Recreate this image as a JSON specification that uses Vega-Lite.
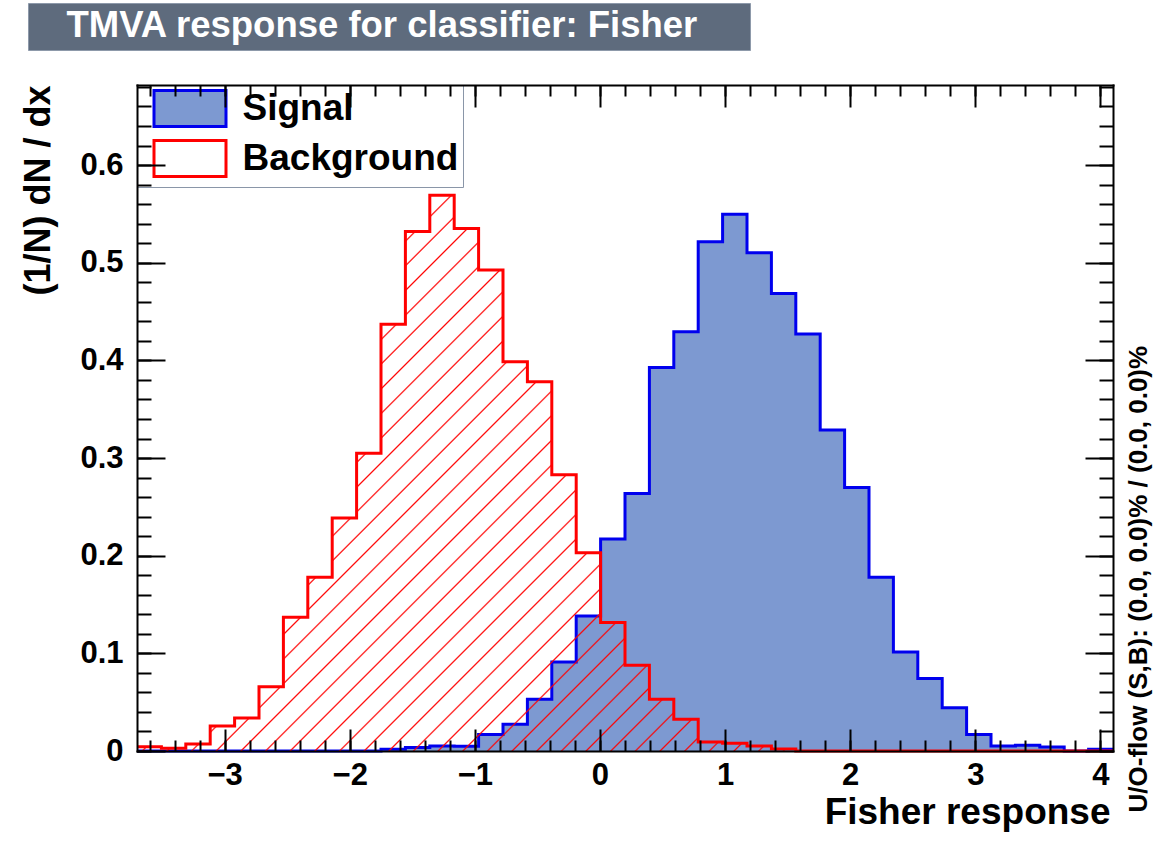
{
"$schema":"https://vega.github.io/schema/vega-lite/v6.json",
"width":976,"height":666,
"autosize":{"type":"none"},
"padding":{"left":137,"top":85,"right":56,"bottom":94},
"background":"white",
"config":{"view":{"stroke":null},"font":"Liberation Sans"},
"data":{"values":[
{"cls":"Signal","lo":-3.7,"hi":-3.505,"v":0},
{"cls":"Signal","lo":-3.505,"hi":-3.31,"v":0},
{"cls":"Signal","lo":-3.31,"hi":-3.115,"v":0},
{"cls":"Signal","lo":-3.115,"hi":-2.92,"v":0},
{"cls":"Signal","lo":-2.92,"hi":-2.725,"v":0},
{"cls":"Signal","lo":-2.725,"hi":-2.53,"v":0},
{"cls":"Signal","lo":-2.53,"hi":-2.335,"v":0},
{"cls":"Signal","lo":-2.335,"hi":-2.14,"v":0},
{"cls":"Signal","lo":-2.14,"hi":-1.945,"v":0},
{"cls":"Signal","lo":-1.945,"hi":-1.75,"v":0},
{"cls":"Signal","lo":-1.75,"hi":-1.555,"v":0.0017},
{"cls":"Signal","lo":-1.555,"hi":-1.36,"v":0.0035},
{"cls":"Signal","lo":-1.36,"hi":-1.165,"v":0.005},
{"cls":"Signal","lo":-1.165,"hi":-0.97,"v":0.0048},
{"cls":"Signal","lo":-0.97,"hi":-0.775,"v":0.0168},
{"cls":"Signal","lo":-0.775,"hi":-0.58,"v":0.0273},
{"cls":"Signal","lo":-0.58,"hi":-0.385,"v":0.053},
{"cls":"Signal","lo":-0.385,"hi":-0.19,"v":0.0912},
{"cls":"Signal","lo":-0.19,"hi":0.005,"v":0.1383},
{"cls":"Signal","lo":0.005,"hi":0.2,"v":0.217},
{"cls":"Signal","lo":0.2,"hi":0.395,"v":0.2637},
{"cls":"Signal","lo":0.395,"hi":0.59,"v":0.3928},
{"cls":"Signal","lo":0.59,"hi":0.785,"v":0.4293},
{"cls":"Signal","lo":0.785,"hi":0.98,"v":0.5215},
{"cls":"Signal","lo":0.98,"hi":1.175,"v":0.5496},
{"cls":"Signal","lo":1.175,"hi":1.37,"v":0.5102},
{"cls":"Signal","lo":1.37,"hi":1.565,"v":0.4686},
{"cls":"Signal","lo":1.565,"hi":1.76,"v":0.427},
{"cls":"Signal","lo":1.76,"hi":1.955,"v":0.3286},
{"cls":"Signal","lo":1.955,"hi":2.15,"v":0.2699},
{"cls":"Signal","lo":2.15,"hi":2.345,"v":0.178},
{"cls":"Signal","lo":2.345,"hi":2.54,"v":0.1015},
{"cls":"Signal","lo":2.54,"hi":2.735,"v":0.0742},
{"cls":"Signal","lo":2.735,"hi":2.93,"v":0.0444},
{"cls":"Signal","lo":2.93,"hi":3.125,"v":0.0168},
{"cls":"Signal","lo":3.125,"hi":3.32,"v":0.0051},
{"cls":"Signal","lo":3.32,"hi":3.515,"v":0.0058},
{"cls":"Signal","lo":3.515,"hi":3.71,"v":0.0041},
{"cls":"Signal","lo":3.71,"hi":3.905,"v":0},
{"cls":"Signal","lo":3.905,"hi":4.1,"v":0.0017},
{"cls":"Background","lo":-3.7,"hi":-3.505,"v":0.0044},
{"cls":"Background","lo":-3.505,"hi":-3.31,"v":0.0028},
{"cls":"Background","lo":-3.31,"hi":-3.115,"v":0.0072},
{"cls":"Background","lo":-3.115,"hi":-2.92,"v":0.0256},
{"cls":"Background","lo":-2.92,"hi":-2.725,"v":0.0338},
{"cls":"Background","lo":-2.725,"hi":-2.53,"v":0.0658},
{"cls":"Background","lo":-2.53,"hi":-2.335,"v":0.137},
{"cls":"Background","lo":-2.335,"hi":-2.14,"v":0.178},
{"cls":"Background","lo":-2.14,"hi":-1.945,"v":0.2386},
{"cls":"Background","lo":-1.945,"hi":-1.75,"v":0.305},
{"cls":"Background","lo":-1.75,"hi":-1.555,"v":0.437},
{"cls":"Background","lo":-1.555,"hi":-1.36,"v":0.532},
{"cls":"Background","lo":-1.36,"hi":-1.165,"v":0.569},
{"cls":"Background","lo":-1.165,"hi":-0.97,"v":0.535},
{"cls":"Background","lo":-0.97,"hi":-0.775,"v":0.4925},
{"cls":"Background","lo":-0.775,"hi":-0.58,"v":0.3985},
{"cls":"Background","lo":-0.58,"hi":-0.385,"v":0.378},
{"cls":"Background","lo":-0.385,"hi":-0.19,"v":0.283},
{"cls":"Background","lo":-0.19,"hi":0.005,"v":0.203},
{"cls":"Background","lo":0.005,"hi":0.2,"v":0.1315},
{"cls":"Background","lo":0.2,"hi":0.395,"v":0.0878},
{"cls":"Background","lo":0.395,"hi":0.59,"v":0.053},
{"cls":"Background","lo":0.59,"hi":0.785,"v":0.0325},
{"cls":"Background","lo":0.785,"hi":0.98,"v":0.0092},
{"cls":"Background","lo":0.98,"hi":1.175,"v":0.008},
{"cls":"Background","lo":1.175,"hi":1.37,"v":0.005},
{"cls":"Background","lo":1.37,"hi":1.565,"v":0.002},
{"cls":"Background","lo":1.565,"hi":1.76,"v":0},
{"cls":"Background","lo":1.76,"hi":1.955,"v":0},
{"cls":"Background","lo":1.955,"hi":2.15,"v":0},
{"cls":"Background","lo":2.15,"hi":2.345,"v":0},
{"cls":"Background","lo":2.345,"hi":2.54,"v":0},
{"cls":"Background","lo":2.54,"hi":2.735,"v":0},
{"cls":"Background","lo":2.735,"hi":2.93,"v":0},
{"cls":"Background","lo":2.93,"hi":3.125,"v":0},
{"cls":"Background","lo":3.125,"hi":3.32,"v":0},
{"cls":"Background","lo":3.32,"hi":3.515,"v":0},
{"cls":"Background","lo":3.515,"hi":3.71,"v":0},
{"cls":"Background","lo":3.71,"hi":3.905,"v":0},
{"cls":"Background","lo":3.905,"hi":4.1,"v":0}
]},
"resolve":{"axis":{"x":"independent","y":"independent"}},
"layer":[
{
"transform":[{"filter":{"field":"cls","equal":"Signal"}},{"fold":["lo","hi"],"as":["edge","xv"]}],
"mark":{"type":"area","fill":"#7d99d1","opacity":1},
"encoding":{
"x":{"field":"xv","type":"quantitative","scale":{"domain":[-3.7,4.1],"nice":false,"zero":false},
"axis":{"orient":"bottom","values":[-3,-2,-1,0,1,2,3,4],"format":"~g","tickSize":-22,"tickWidth":2,"tickColor":"black","domain":true,"domainColor":"black","domainWidth":2,"domainCap":"square","grid":false,"zindex":1,"labelFont":"Liberation Sans","labelFontSize":31,"labelFontWeight":"bold","labelColor":"black","labelPadding":31,"labelFlush":false,"labelOverlap":false,"title":"Fisher response","titleFont":"Liberation Sans","titleFontSize":37,"titleFontWeight":"bold","titleColor":"black","titleAlign":"right","titleBaseline":"alphabetic","titleAngle":0,"titleX":973,"titleY":72}},
"y":{"field":"v","type":"quantitative","stack":null,"scale":{"domain":[0,0.682],"nice":false,"zero":false},
"axis":{"orient":"left","values":[0,0.1,0.2,0.3,0.4,0.5,0.6],"format":"~g","tickSize":-28,"tickWidth":2,"tickColor":"black","domain":true,"domainColor":"black","domainWidth":2,"domainCap":"square","grid":false,"zindex":1,"labelFont":"Liberation Sans","labelFontSize":31,"labelFontWeight":"bold","labelColor":"black","labelPadding":42,"labelFlush":false,"labelOverlap":false,"title":"(1/N) dN / dx","titleFont":"Liberation Sans","titleFontSize":36,"titleFontWeight":"bold","titleColor":"black","titleAngle":270,"titleAlign":"right","titleBaseline":"middle","titleX":-99,"titleY":0}},
"order":[{"field":"xv","type":"quantitative"},{"field":"lo","type":"quantitative"}]
}
},
{
"transform":[{"filter":{"field":"cls","equal":"Signal"}},{"fold":["lo","hi"],"as":["edge","xv"]}],
"mark":{"type":"line","stroke":"#0000ee","strokeWidth":3,"strokeJoin":"miter","opacity":1},
"encoding":{
"x":{"field":"xv","type":"quantitative",
"axis":{"orient":"bottom","values":[-3.6,-3.4,-3.2,-3,-2.8,-2.6,-2.4,-2.2,-2,-1.8,-1.6,-1.4,-1.2,-1,-0.8,-0.6,-0.4,-0.2,0,0.2,0.4,0.6,0.8,1,1.2,1.4,1.6,1.8,2,2.2,2.4,2.6,2.8,3,3.2,3.4,3.6,3.8,4],"tickSize":-11,"tickWidth":2,"tickColor":"black","labels":false,"domain":false,"grid":false,"zindex":1,"title":null}},
"y":{"field":"v","type":"quantitative","stack":null,
"axis":{"orient":"left","values":[0,0.02,0.04,0.06,0.08,0.1,0.12,0.14,0.16,0.18,0.2,0.22,0.24,0.26,0.28,0.3,0.32,0.34,0.36,0.38,0.4,0.42,0.44,0.46,0.48,0.5,0.52,0.54,0.56,0.58,0.6,0.62,0.64,0.66,0.68],"tickSize":-14,"tickWidth":2,"tickColor":"black","labels":false,"domain":false,"grid":false,"zindex":1,"title":null}},
"order":[{"field":"xv","type":"quantitative"},{"field":"lo","type":"quantitative"}]
}
},
{
"transform":[{"filter":{"field":"cls","equal":"Background"}},{"fold":["lo","hi"],"as":["edge","xv"]}],
"mark":{"type":"area","opacity":1,"fill":{"gradient":"linear","x1":0,"y1":0,"x2":1.18519,"y2":0.67468,"stops":[
{"offset":0.0109,"color":"rgba(255,0,0,0)"},{"offset":0.0120,"color":"#ff0000"},{"offset":0.0131,"color":"rgba(255,0,0,0)"},
{"offset":0.0270,"color":"rgba(255,0,0,0)"},{"offset":0.0281,"color":"#ff0000"},{"offset":0.0292,"color":"rgba(255,0,0,0)"},
{"offset":0.0431,"color":"rgba(255,0,0,0)"},{"offset":0.0442,"color":"#ff0000"},{"offset":0.0453,"color":"rgba(255,0,0,0)"},
{"offset":0.0592,"color":"rgba(255,0,0,0)"},{"offset":0.0603,"color":"#ff0000"},{"offset":0.0614,"color":"rgba(255,0,0,0)"},
{"offset":0.0753,"color":"rgba(255,0,0,0)"},{"offset":0.0764,"color":"#ff0000"},{"offset":0.0775,"color":"rgba(255,0,0,0)"},
{"offset":0.0914,"color":"rgba(255,0,0,0)"},{"offset":0.0925,"color":"#ff0000"},{"offset":0.0936,"color":"rgba(255,0,0,0)"},
{"offset":0.1075,"color":"rgba(255,0,0,0)"},{"offset":0.1086,"color":"#ff0000"},{"offset":0.1097,"color":"rgba(255,0,0,0)"},
{"offset":0.1236,"color":"rgba(255,0,0,0)"},{"offset":0.1247,"color":"#ff0000"},{"offset":0.1258,"color":"rgba(255,0,0,0)"},
{"offset":0.1397,"color":"rgba(255,0,0,0)"},{"offset":0.1408,"color":"#ff0000"},{"offset":0.1419,"color":"rgba(255,0,0,0)"},
{"offset":0.1558,"color":"rgba(255,0,0,0)"},{"offset":0.1569,"color":"#ff0000"},{"offset":0.1580,"color":"rgba(255,0,0,0)"},
{"offset":0.1719,"color":"rgba(255,0,0,0)"},{"offset":0.1730,"color":"#ff0000"},{"offset":0.1741,"color":"rgba(255,0,0,0)"},
{"offset":0.1880,"color":"rgba(255,0,0,0)"},{"offset":0.1891,"color":"#ff0000"},{"offset":0.1902,"color":"rgba(255,0,0,0)"},
{"offset":0.2041,"color":"rgba(255,0,0,0)"},{"offset":0.2052,"color":"#ff0000"},{"offset":0.2063,"color":"rgba(255,0,0,0)"},
{"offset":0.2202,"color":"rgba(255,0,0,0)"},{"offset":0.2213,"color":"#ff0000"},{"offset":0.2224,"color":"rgba(255,0,0,0)"},
{"offset":0.2363,"color":"rgba(255,0,0,0)"},{"offset":0.2374,"color":"#ff0000"},{"offset":0.2385,"color":"rgba(255,0,0,0)"},
{"offset":0.2524,"color":"rgba(255,0,0,0)"},{"offset":0.2535,"color":"#ff0000"},{"offset":0.2546,"color":"rgba(255,0,0,0)"},
{"offset":0.2685,"color":"rgba(255,0,0,0)"},{"offset":0.2696,"color":"#ff0000"},{"offset":0.2707,"color":"rgba(255,0,0,0)"},
{"offset":0.2846,"color":"rgba(255,0,0,0)"},{"offset":0.2857,"color":"#ff0000"},{"offset":0.2868,"color":"rgba(255,0,0,0)"},
{"offset":0.3007,"color":"rgba(255,0,0,0)"},{"offset":0.3018,"color":"#ff0000"},{"offset":0.3029,"color":"rgba(255,0,0,0)"},
{"offset":0.3168,"color":"rgba(255,0,0,0)"},{"offset":0.3179,"color":"#ff0000"},{"offset":0.3190,"color":"rgba(255,0,0,0)"},
{"offset":0.3329,"color":"rgba(255,0,0,0)"},{"offset":0.3340,"color":"#ff0000"},{"offset":0.3351,"color":"rgba(255,0,0,0)"},
{"offset":0.3490,"color":"rgba(255,0,0,0)"},{"offset":0.3501,"color":"#ff0000"},{"offset":0.3512,"color":"rgba(255,0,0,0)"},
{"offset":0.3651,"color":"rgba(255,0,0,0)"},{"offset":0.3662,"color":"#ff0000"},{"offset":0.3673,"color":"rgba(255,0,0,0)"},
{"offset":0.3812,"color":"rgba(255,0,0,0)"},{"offset":0.3823,"color":"#ff0000"},{"offset":0.3834,"color":"rgba(255,0,0,0)"},
{"offset":0.3973,"color":"rgba(255,0,0,0)"},{"offset":0.3984,"color":"#ff0000"},{"offset":0.3995,"color":"rgba(255,0,0,0)"},
{"offset":0.4134,"color":"rgba(255,0,0,0)"},{"offset":0.4145,"color":"#ff0000"},{"offset":0.4156,"color":"rgba(255,0,0,0)"},
{"offset":0.4295,"color":"rgba(255,0,0,0)"},{"offset":0.4306,"color":"#ff0000"},{"offset":0.4317,"color":"rgba(255,0,0,0)"},
{"offset":0.4456,"color":"rgba(255,0,0,0)"},{"offset":0.4467,"color":"#ff0000"},{"offset":0.4478,"color":"rgba(255,0,0,0)"},
{"offset":0.4617,"color":"rgba(255,0,0,0)"},{"offset":0.4628,"color":"#ff0000"},{"offset":0.4639,"color":"rgba(255,0,0,0)"},
{"offset":0.4778,"color":"rgba(255,0,0,0)"},{"offset":0.4789,"color":"#ff0000"},{"offset":0.4800,"color":"rgba(255,0,0,0)"},
{"offset":0.4939,"color":"rgba(255,0,0,0)"},{"offset":0.4950,"color":"#ff0000"},{"offset":0.4961,"color":"rgba(255,0,0,0)"},
{"offset":0.5100,"color":"rgba(255,0,0,0)"},{"offset":0.5111,"color":"#ff0000"},{"offset":0.5122,"color":"rgba(255,0,0,0)"},
{"offset":0.5261,"color":"rgba(255,0,0,0)"},{"offset":0.5272,"color":"#ff0000"},{"offset":0.5283,"color":"rgba(255,0,0,0)"},
{"offset":0.5422,"color":"rgba(255,0,0,0)"},{"offset":0.5433,"color":"#ff0000"},{"offset":0.5444,"color":"rgba(255,0,0,0)"},
{"offset":0.5583,"color":"rgba(255,0,0,0)"},{"offset":0.5594,"color":"#ff0000"},{"offset":0.5605,"color":"rgba(255,0,0,0)"},
{"offset":0.5744,"color":"rgba(255,0,0,0)"},{"offset":0.5755,"color":"#ff0000"},{"offset":0.5766,"color":"rgba(255,0,0,0)"},
{"offset":0.5905,"color":"rgba(255,0,0,0)"},{"offset":0.5916,"color":"#ff0000"},{"offset":0.5927,"color":"rgba(255,0,0,0)"},
{"offset":0.6066,"color":"rgba(255,0,0,0)"},{"offset":0.6077,"color":"#ff0000"},{"offset":0.6088,"color":"rgba(255,0,0,0)"},
{"offset":0.6227,"color":"rgba(255,0,0,0)"},{"offset":0.6238,"color":"#ff0000"},{"offset":0.6249,"color":"rgba(255,0,0,0)"},
{"offset":0.6388,"color":"rgba(255,0,0,0)"},{"offset":0.6399,"color":"#ff0000"},{"offset":0.6410,"color":"rgba(255,0,0,0)"},
{"offset":0.6549,"color":"rgba(255,0,0,0)"},{"offset":0.6560,"color":"#ff0000"},{"offset":0.6571,"color":"rgba(255,0,0,0)"},
{"offset":0.6710,"color":"rgba(255,0,0,0)"},{"offset":0.6721,"color":"#ff0000"},{"offset":0.6732,"color":"rgba(255,0,0,0)"},
{"offset":0.6871,"color":"rgba(255,0,0,0)"},{"offset":0.6882,"color":"#ff0000"},{"offset":0.6893,"color":"rgba(255,0,0,0)"},
{"offset":0.7032,"color":"rgba(255,0,0,0)"},{"offset":0.7043,"color":"#ff0000"},{"offset":0.7054,"color":"rgba(255,0,0,0)"},
{"offset":0.7193,"color":"rgba(255,0,0,0)"},{"offset":0.7204,"color":"#ff0000"},{"offset":0.7215,"color":"rgba(255,0,0,0)"},
{"offset":0.7354,"color":"rgba(255,0,0,0)"},{"offset":0.7365,"color":"#ff0000"},{"offset":0.7376,"color":"rgba(255,0,0,0)"},
{"offset":0.7515,"color":"rgba(255,0,0,0)"},{"offset":0.7526,"color":"#ff0000"},{"offset":0.7537,"color":"rgba(255,0,0,0)"},
{"offset":0.7676,"color":"rgba(255,0,0,0)"},{"offset":0.7687,"color":"#ff0000"},{"offset":0.7698,"color":"rgba(255,0,0,0)"},
{"offset":0.7837,"color":"rgba(255,0,0,0)"},{"offset":0.7848,"color":"#ff0000"},{"offset":0.7859,"color":"rgba(255,0,0,0)"},
{"offset":0.7998,"color":"rgba(255,0,0,0)"},{"offset":0.8009,"color":"#ff0000"},{"offset":0.8020,"color":"rgba(255,0,0,0)"},
{"offset":0.8159,"color":"rgba(255,0,0,0)"},{"offset":0.8170,"color":"#ff0000"},{"offset":0.8181,"color":"rgba(255,0,0,0)"},
{"offset":0.8320,"color":"rgba(255,0,0,0)"},{"offset":0.8331,"color":"#ff0000"},{"offset":0.8342,"color":"rgba(255,0,0,0)"},
{"offset":0.8481,"color":"rgba(255,0,0,0)"},{"offset":0.8492,"color":"#ff0000"},{"offset":0.8503,"color":"rgba(255,0,0,0)"},
{"offset":0.8642,"color":"rgba(255,0,0,0)"},{"offset":0.8653,"color":"#ff0000"},{"offset":0.8664,"color":"rgba(255,0,0,0)"},
{"offset":0.8803,"color":"rgba(255,0,0,0)"},{"offset":0.8814,"color":"#ff0000"},{"offset":0.8825,"color":"rgba(255,0,0,0)"},
{"offset":0.8964,"color":"rgba(255,0,0,0)"},{"offset":0.8975,"color":"#ff0000"},{"offset":0.8986,"color":"rgba(255,0,0,0)"},
{"offset":0.9125,"color":"rgba(255,0,0,0)"},{"offset":0.9136,"color":"#ff0000"},{"offset":0.9147,"color":"rgba(255,0,0,0)"},
{"offset":0.9286,"color":"rgba(255,0,0,0)"},{"offset":0.9297,"color":"#ff0000"},{"offset":0.9308,"color":"rgba(255,0,0,0)"},
{"offset":0.9447,"color":"rgba(255,0,0,0)"},{"offset":0.9458,"color":"#ff0000"},{"offset":0.9469,"color":"rgba(255,0,0,0)"},
{"offset":0.9608,"color":"rgba(255,0,0,0)"},{"offset":0.9619,"color":"#ff0000"},{"offset":0.9630,"color":"rgba(255,0,0,0)"},
{"offset":0.9769,"color":"rgba(255,0,0,0)"},{"offset":0.9780,"color":"#ff0000"},{"offset":0.9791,"color":"rgba(255,0,0,0)"},
{"offset":0.9930,"color":"rgba(255,0,0,0)"},{"offset":0.9941,"color":"#ff0000"},{"offset":0.9952,"color":"rgba(255,0,0,0)"}
]}},
"encoding":{
"x":{"field":"xv","type":"quantitative",
"axis":{"orient":"top","values":[-3,-2,-1,0,1,2,3,4],"tickSize":-22,"tickWidth":2,"tickColor":"black","labels":false,"domain":true,"domainColor":"black","domainWidth":2,"domainCap":"square","grid":false,"zindex":1,"title":null}},
"y":{"field":"v","type":"quantitative","stack":null,
"axis":{"orient":"right","values":[0,0.1,0.2,0.3,0.4,0.5,0.6],"tickSize":-28,"tickWidth":2,"tickColor":"black","labels":false,"domain":true,"domainColor":"black","domainWidth":2,"domainCap":"square","grid":false,"zindex":1,"title":"U/O-flow (S,B): (0.0, 0.0)% / (0.0, 0.0)%","titleFont":"Liberation Sans","titleFontSize":26,"titleFontWeight":"bold","titleColor":"black","titleAngle":270,"titleAlign":"left","titleBaseline":"middle","titleX":25,"titleY":727}},
"order":[{"field":"xv","type":"quantitative"},{"field":"lo","type":"quantitative"}]
}
},
{
"transform":[{"filter":{"field":"cls","equal":"Background"}},{"fold":["lo","hi"],"as":["edge","xv"]}],
"mark":{"type":"line","stroke":"#ff0000","strokeWidth":3,"strokeJoin":"miter","opacity":1},
"encoding":{
"x":{"field":"xv","type":"quantitative",
"axis":{"orient":"top","values":[-3.6,-3.4,-3.2,-3,-2.8,-2.6,-2.4,-2.2,-2,-1.8,-1.6,-1.4,-1.2,-1,-0.8,-0.6,-0.4,-0.2,0,0.2,0.4,0.6,0.8,1,1.2,1.4,1.6,1.8,2,2.2,2.4,2.6,2.8,3,3.2,3.4,3.6,3.8,4],"tickSize":-11,"tickWidth":2,"tickColor":"black","labels":false,"domain":false,"grid":false,"zindex":1,"title":null}},
"y":{"field":"v","type":"quantitative","stack":null,
"axis":{"orient":"right","values":[0,0.02,0.04,0.06,0.08,0.1,0.12,0.14,0.16,0.18,0.2,0.22,0.24,0.26,0.28,0.3,0.32,0.34,0.36,0.38,0.4,0.42,0.44,0.46,0.48,0.5,0.52,0.54,0.56,0.58,0.6,0.62,0.64,0.66,0.68],"tickSize":-14,"tickWidth":2,"tickColor":"black","labels":false,"domain":false,"grid":false,"zindex":1,"title":null}},
"order":[{"field":"xv","type":"quantitative"},{"field":"lo","type":"quantitative"}]
}
},
{
"transform":[{"filter":"false"}],
"mark":{"type":"square","filled":true,"opacity":1},
"encoding":{
"fill":{"field":"cls","type":"nominal","scale":{"domain":["Signal","Background"],"range":["#7d99d1","white"]},
"legend":{"orient":"none","legendX":0,"legendY":0,"title":null,"padding":4,"fillColor":"white","strokeColor":"#8a96a8","symbolType":"M-2,-1H2V1H-2Z","symbolSize":1296,"symbolStrokeWidth":3,"symbolOffset":29.5,"symbolOpacity":1,"labelFont":"Liberation Sans","labelFontSize":37,"labelFontWeight":"bold","labelColor":"black","labelOffset":33,"labelLimit":600,"rowPadding":1,"labelExpr":"datum.label + '\u00a0\u00a0'"}},
"stroke":{"field":"cls","type":"nominal","scale":{"domain":["Signal","Background"],"range":["#0000ee","#ff0000"]},
"legend":{"orient":"none","legendX":0,"legendY":0,"title":null,"padding":4,"fillColor":"white","strokeColor":"#8a96a8","symbolType":"M-2,-1H2V1H-2Z","symbolSize":1296,"symbolStrokeWidth":3,"symbolOffset":29.5,"symbolOpacity":1,"labelFont":"Liberation Sans","labelFontSize":37,"labelFontWeight":"bold","labelColor":"black","labelOffset":33,"labelLimit":600,"rowPadding":1,"labelExpr":"datum.label + '\u00a0\u00a0'"}}
}
},
{
"transform":[{"filter":"false"}],
"mark":{"type":"point","opacity":1},
"encoding":{
"shape":{"field":"ttl","type":"nominal","scale":{"domain":["TMVA response for classifier: Fisher"],"range":["square"]},
"legend":{"orient":"none","legendX":-109,"legendY":-82,"title":null,"padding":5,"fillColor":"#5e6b7d","strokeColor":"#8d99aa","symbolSize":1,"symbolOpacity":0,"symbolStrokeWidth":0,"symbolOffset":693,"labelFont":"Liberation Sans","labelFontSize":36.5,"labelFontWeight":"bold","labelColor":"white","labelOffset":-696,"labelLimit":1000}}
}
}
]
}
